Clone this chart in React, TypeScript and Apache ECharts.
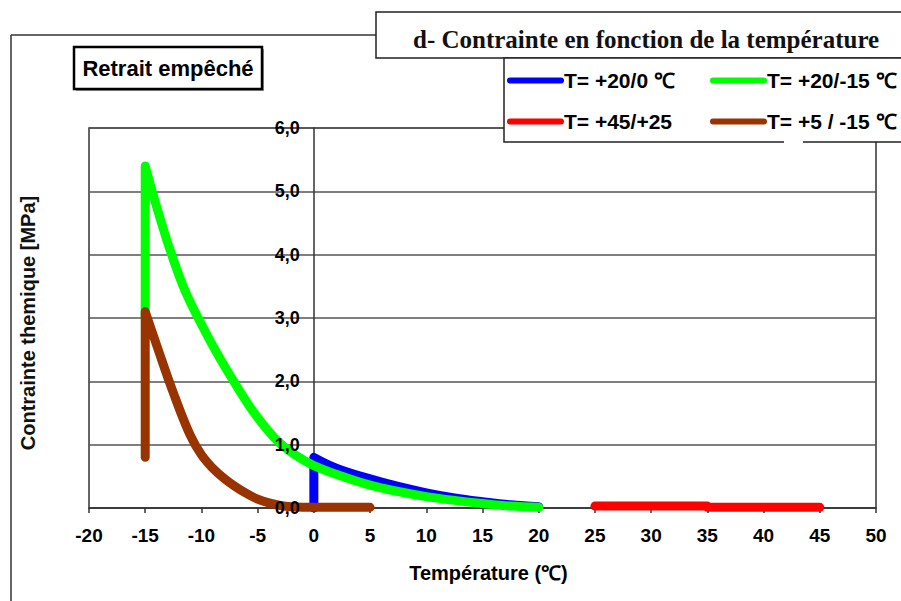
import React, { useEffect, useRef } from "react";
import * as echarts from "echarts";

const seriesNames = ["T= +20/0 ℃", "T= +20/-15 ℃", "T= +45/+25", "T= +5 / -15 ℃"];
const seriesColors = ["#0000ff", "#00ff00", "#ff0000", "#993300"];

// [température (°C), contrainte (MPa)] — the peak point is repeated so the smoothed curve keeps a sharp corner
const blueT = [0, 0, 0, 2, 5, 7.5, 10, 12.5, 15, 17.5, 20];
const blueV = [0, 0.8, 0.8, 0.63, 0.46, 0.34, 0.24, 0.16, 0.1, 0.05, 0.02];

const greenT = [-15, -15, -15, -14.3, -13.5, -12.8, -11.5, -10, -8.7, -7.3, -5.3, -3.3, -1.5, 0, 2.5, 5, 7.5, 10, 12.5, 15, 17.5, 20];
const greenV = [3.0, 5.4, 5.4, 4.95, 4.47, 4.08, 3.45, 2.9, 2.47, 2.05, 1.5, 1.07, 0.82, 0.67, 0.5, 0.36, 0.26, 0.18, 0.12, 0.07, 0.03, 0.01];

const redT = [25, 35, 35, 45];
const redV = [0.03, 0.03, 0.01, 0.01];

const brownT = [-15, -15, -15, -14, -12.5, -11, -10, -9, -8, -7, -6, -5, -4, -3, -2, 0, 5];
const brownV = [0.8, 3.1, 3.1, 2.58, 1.82, 1.15, 0.84, 0.63, 0.47, 0.34, 0.23, 0.14, 0.08, 0.04, 0.02, 0.01, 0.01];

const xTicks = { min: -20, max: 50, interval: 5 };
const yTicks = { min: 0, max: 6, interval: 1 };

const zip = (a: number[], b: number[]) => a.map((v, i) => [v, b[i]]);

const GRID_LEFT = 89;
const GRID_RIGHT = 25;
const WIDTH = 901;

export default function App() {
  const ref = useRef<HTMLDivElement>(null);
  useEffect(() => {
    document.body.style.margin = "0";
    const chart = echarts.init(ref.current!, undefined, { renderer: "svg" });
    const sans = "Liberation Sans, Arial, sans-serif";
    const dataSets = [zip(blueT, blueV), zip(greenT, greenV), zip(redT, redV), zip(brownT, brownV)];
    const plotW = WIDTH - GRID_LEFT - GRID_RIGHT;
    const zeroOffset = ((0 - xTicks.min) / (xTicks.max - xTicks.min)) * plotW;
    const legendCommon = {
      orient: "vertical" as const,
      top: 70,
      itemWidth: 51,
      itemHeight: 6,
      itemGap: 20,
      padding: 0,
      selectedMode: false,
      z: 20,
      lineStyle: { width: 6 },
      textStyle: { fontFamily: sans, fontWeight: "bold", fontSize: 21, color: "#000", padding: [0, 0, 0, -2] },
    };
    const yScale = { type: "value" as const, min: yTicks.min, max: yTicks.max, interval: yTicks.interval, position: "left" as const };
    chart.setOption({
      animation: false,
      backgroundColor: "#fff",
      title: {
        text: "d- Contrainte en fonction de la température",
        left: 413,
        top: 27,
        padding: 0,
        z: 20,
        textStyle: { fontFamily: "Liberation Serif, Times New Roman, serif", fontWeight: "bold", fontSize: 25, color: "#111" },
      },
      legend: [
        { ...legendCommon, left: 507, data: [seriesNames[0], seriesNames[2]] },
        { ...legendCommon, left: 710, data: [seriesNames[1], seriesNames[3]] },
      ],
      grid: {
        left: GRID_LEFT,
        right: GRID_RIGHT,
        top: 128,
        bottom: 93,
        show: true,
        borderColor: "#333",
        borderWidth: 1.5,
        backgroundColor: "transparent",
      },
      xAxis: {
        type: "value",
        min: xTicks.min,
        max: xTicks.max,
        interval: xTicks.interval,
        name: "Température (℃)",
        nameLocation: "middle",
        nameGap: 55,
        nameTextStyle: { fontFamily: sans, fontWeight: "bold", fontSize: 20, color: "#000", padding: [0, 0, 0, 12] },
        axisLine: { onZero: false, lineStyle: { color: "#333", width: 1.5 } },
        axisTick: { show: true, length: 5, lineStyle: { color: "#333", width: 1.5 } },
        axisLabel: { margin: 18, fontFamily: sans, fontWeight: "bold", fontSize: 19, color: "#000" },
        splitLine: { show: false },
      },
      yAxis: [
        {
          ...yScale,
          z: 0,
          axisLine: { show: false },
          axisTick: { show: false },
          axisLabel: { show: false },
          splitLine: { show: true, lineStyle: { color: "#555", width: 1.5 } },
        },
        {
          ...yScale,
          z: 0,
          offset: -zeroOffset,
          axisLine: { show: true, onZero: false, lineStyle: { color: "#333", width: 1.5 } },
          axisTick: { show: false },
          axisLabel: { show: false },
          splitLine: { show: false },
        },
        {
          ...yScale,
          z: 10,
          offset: -zeroOffset,
          axisLine: { show: false },
          axisTick: { show: false },
          axisLabel: {
            margin: 14,
            fontFamily: sans,
            fontWeight: "bold",
            fontSize: 18,
            color: "#000",
            formatter: (v: number) => v.toFixed(1).replace(".", ","),
          },
          splitLine: { show: false },
        },
      ],
      series: dataSets.map((d, i) => ({
        name: seriesNames[i],
        type: "line",
        yAxisIndex: 0,
        data: d,
        color: seriesColors[i],
        showSymbol: false,
        symbol: "circle",
        symbolSize: 4,
        smooth: i === 2 ? false : 0.4,
        lineStyle: { width: 9, color: seriesColors[i], cap: "round", join: "round" },
        z: 2 + i,
      })),
      graphic: [
        { type: "line", shape: { x1: 11, y1: 35, x2: 11, y2: 601 }, style: { stroke: "#333", lineWidth: 1.5 }, z: 1 },
        { type: "line", shape: { x1: 11, y1: 35, x2: 376, y2: 35 }, style: { stroke: "#333", lineWidth: 1.5 }, z: 1 },
        { type: "rect", shape: { x: 376, y: 12, width: 540, height: 46 }, style: { fill: "#fff", stroke: "#222", lineWidth: 1.5 }, z: 11 },
        { type: "rect", shape: { x: 504, y: 58, width: 420, height: 84 }, style: { fill: "#fff", stroke: "#222", lineWidth: 1.5 }, z: 11 },
        { type: "rect", shape: { x: 784, y: 139, width: 19, height: 5 }, style: { fill: "#fff" }, z: 11 },
        { type: "rect", shape: { x: 76, y: 49, width: 188, height: 42 }, style: { fill: "#999" }, z: 11 },
        { type: "rect", shape: { x: 74, y: 47, width: 188, height: 42 }, style: { fill: "#fff", stroke: "#000", lineWidth: 2.5 }, z: 11 },
        {
          type: "text",
          x: 168,
          y: 68,
          z: 12,
          style: { text: "Retrait empêché", fill: "#000", font: `bold 22px ${sans}`, textAlign: "center", textVerticalAlign: "middle" },
        },
        {
          type: "text",
          x: 28,
          y: 323,
          rotation: Math.PI / 2,
          z: 12,
          style: { text: "Contrainte themique [MPa]", fill: "#111", font: `bold 20px ${sans}`, textAlign: "center", textVerticalAlign: "middle" },
        },
      ],
    });
    return () => chart.dispose();
  }, []);
  return <div ref={ref} style={{ position: "fixed", left: 0, top: 0, width: WIDTH, height: 601 }} />;
}
